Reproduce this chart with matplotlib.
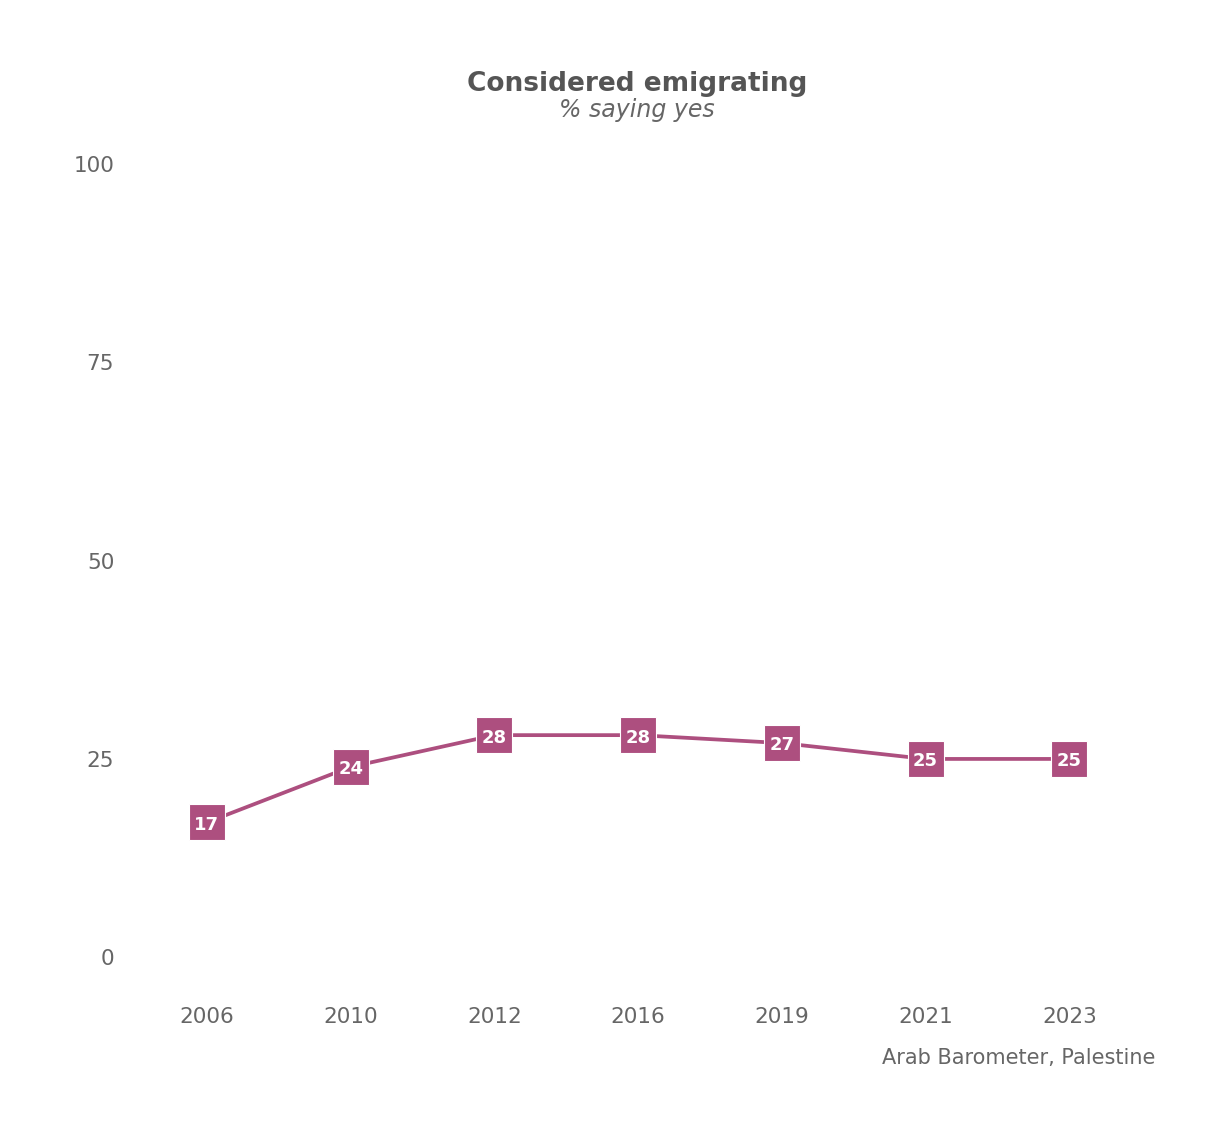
import matplotlib
matplotlib.use("Agg")
import matplotlib.pyplot as plt

years = ["2006", "2010", "2012", "2016", "2019", "2021", "2023"]
values = [17, 24, 28, 28, 27, 25, 25]
yticks = [0, 25, 50, 75, 100]

line_color = "#AD4F7F"
text_color = "#555555"
tick_color = "#666666"

plt.rcParams["font.family"] = ["DejaVu Sans"]

fig = plt.figure(figsize=(12.3, 11.35), dpi=100)
ax = fig.add_axes([0.1098, 0.1286, 0.818, 0.755])

x = list(range(len(years)))
ax.plot(x, values, color=line_color, linewidth=2.7, marker="s",
        markersize=26, markerfacecolor=line_color, markeredgecolor="white",
        markeredgewidth=0.8, zorder=3)
for xi, v in zip(x, values):
    ax.text(xi, v - 0.3, str(v), ha="center", va="center", color="white",
            fontsize=13, fontweight="bold", zorder=4)

ax.set_xlim(-0.5, len(years) - 0.5)
ax.set_ylim(-4, 104)
ax.set_xticks(x)
ax.set_xticklabels(years)
ax.set_yticks(yticks)
ax.tick_params(axis="both", length=0, labelsize=15.5, labelcolor=tick_color)
ax.tick_params(axis="x", pad=13)
ax.tick_params(axis="y", pad=15)
for s in ax.spines.values():
    s.set_visible(False)

fig.text(0.518, 0.926, "Considered emigrating", ha="center", va="center",
         fontsize=19, fontweight="bold", color=text_color)
fig.text(0.518, 0.903, "% saying yes", ha="center", va="center",
         fontsize=17, style="italic", color=tick_color)
fig.text(0.939, 0.068, "Arab Barometer, Palestine", ha="right", va="center",
         fontsize=15, color=tick_color)

fig.savefig("out.png", dpi=100)
